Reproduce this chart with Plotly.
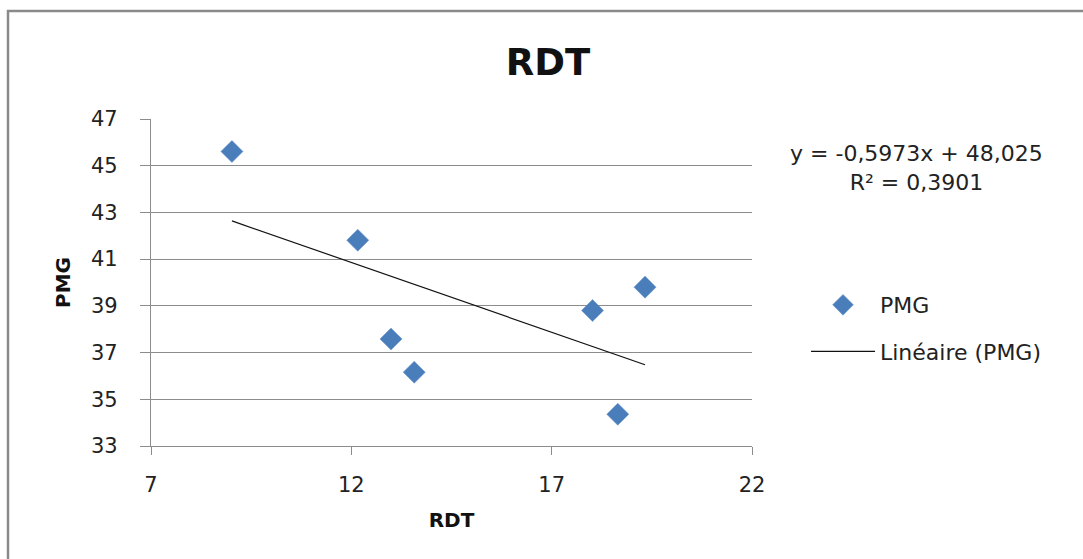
import plotly.graph_objects as go

# Observations: yield (RDT) against thousand-grain weight (PMG)
rdt = [9.02, 12.16, 12.99, 13.57, 18.02, 19.33, 18.65]
pmg = [45.61, 41.81, 37.58, 36.16, 38.80, 39.80, 34.36]

# Linear trend as reported in the equation label
slope = -0.5973
intercept = 48.025
r_squared = 0.3901

x_ticks = [7, 12, 17, 22]
y_ticks = [33, 35, 37, 39, 41, 43, 45, 47]

W, H = 1083, 559
ML, MR, MT, MB = 151, 331, 119, 113
PW, PH = W - ML - MR, H - MT - MB

FONT = "DejaVu Sans"
GRID = "#8c8c8c"
BLUE = "#4a7ebb"


def px_x(p):
    return (p - ML) / PW


def px_y(p):
    return (H - MB - p) / PH


trend_x = [min(rdt), max(rdt)]
trend_y = [slope * v + intercept for v in trend_x]

fig = go.Figure()
fig.add_trace(go.Scatter(
    x=rdt, y=pmg, mode="markers", name="PMG", legendgroup="a",
    marker=dict(symbol="diamond", size=17, color=BLUE,
                line=dict(width=0.5, color="#6a96cc")),
))
fig.add_trace(go.Scatter(
    x=trend_x, y=trend_y, mode="lines", name="Linéaire (PMG)", legendgroup="b",
    line=dict(color="#111111", width=1.2),
))


def fmt(v, nd):
    return f"{v:.{nd}f}".replace(".", ",")


eq_text = (f"y = {fmt(slope, 4)}x + {fmt(intercept, 3)}"
           f"<br>R² = {fmt(r_squared, 4)}")

fig.add_annotation(
    x=px_x(916), y=px_y(168), xref="paper", yref="paper",
    xanchor="center", yanchor="middle",
    text=eq_text, showarrow=False, align="center",
    font=dict(family=FONT, size=22, color="#222222"),
)

# outer chart frame (only its left and top sides fall inside the view)
fig.add_shape(
    type="rect", xref="paper", yref="paper",
    x0=px_x(8), x1=px_x(W + 20), y0=px_y(H + 20), y1=px_y(11),
    line=dict(color="#8a8a8a", width=2.5), fillcolor="rgba(0,0,0,0)",
    layer="below",
)

fig.update_layout(
    width=W, height=H,
    margin=dict(l=ML, r=MR, t=MT, b=MB, autoexpand=False),
    paper_bgcolor="white", plot_bgcolor="white",
    font=dict(family=FONT, color="#222222"),
    title=dict(
        text="<b>RDT</b>", x=px_x(548), xref="paper", xanchor="center",
        y=1 - 62 / H, yanchor="middle",
        font=dict(family=FONT, size=37, color="#111111"),
    ),
    showlegend=True,
    legend=dict(
        x=px_x(806), y=px_y(284), xanchor="left", yanchor="top",
        font=dict(family=FONT, size=22, color="#222222"),
        tracegroupgap=15, itemwidth=64,
        bgcolor="rgba(0,0,0,0)",
    ),
    xaxis=dict(
        range=[7, 22], tickvals=x_ticks, ticktext=[str(v) for v in x_ticks],
        showgrid=False, zeroline=False,
        showline=True, linecolor=GRID, linewidth=1.2,
        ticks="outside", ticklen=8, tickcolor=GRID,
        tickfont=dict(family=FONT, size=21, color="#222222"),
        ticklabelstandoff=12,
        title=dict(text="<b>RDT</b>", standoff=16,
                   font=dict(family=FONT, size=20, color="#111111")),
    ),
    yaxis=dict(
        range=[33, 47], tickvals=y_ticks, ticktext=[str(v) for v in y_ticks],
        showgrid=True, gridcolor=GRID, gridwidth=1.2, zeroline=False,
        showline=True, linecolor=GRID, linewidth=1.2,
        ticks="outside", ticklen=10, tickcolor=GRID,
        tickfont=dict(family=FONT, size=21, color="#222222"),
        ticklabelstandoff=18,
        title=dict(text="<b>PMG</b>", standoff=14,
                   font=dict(family=FONT, size=20, color="#111111")),
    ),
)

fig.write_html("out.html")
